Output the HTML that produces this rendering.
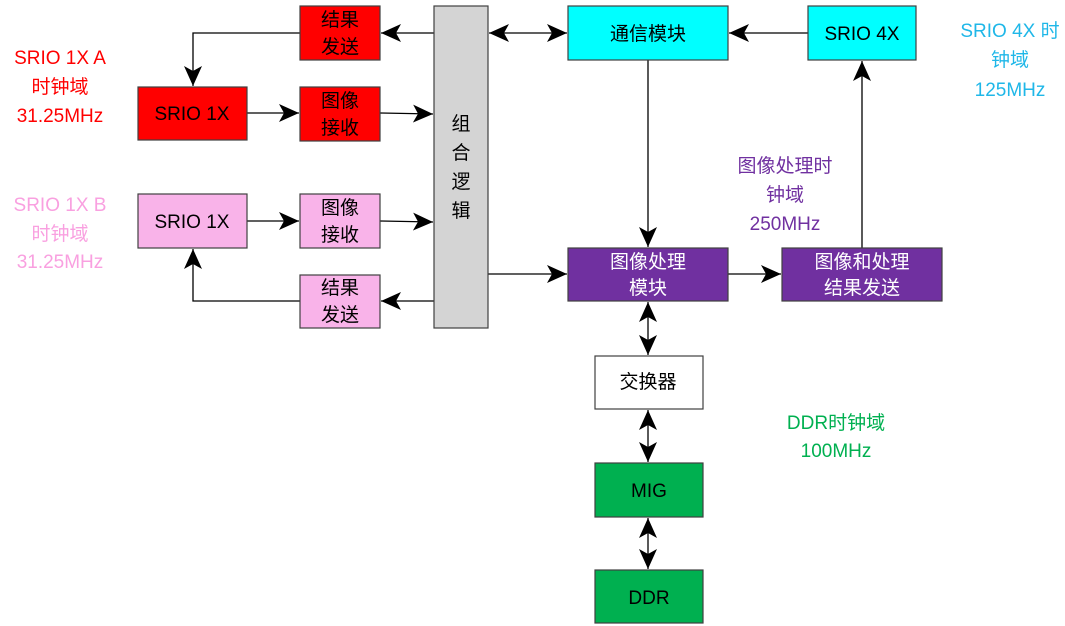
<!DOCTYPE html>
<html><head><meta charset="utf-8"><style>
html,body{margin:0;padding:0;background:#fff;width:1065px;height:626px;overflow:hidden}
text{font-family:"Liberation Sans","Noto Sans CJK SC",sans-serif;font-size:19px}
</style></head><body>
<svg width="1065" height="626" viewBox="0 0 1065 626">
<defs>
<marker id="a" viewBox="0 0 20 18" refX="20" refY="9" markerWidth="20" markerHeight="18" markerUnits="userSpaceOnUse" orient="auto-start-reverse">
<path d="M0,0 L20,9 L0,18 L5,9 Z" fill="#000"/></marker>
</defs>
<g stroke="#000" stroke-width="1.3" fill="none">
<line x1="434" y1="33" x2="381" y2="33" marker-end="url(#a)"/>
<line x1="489" y1="33" x2="567" y2="33" marker-start="url(#a)" marker-end="url(#a)"/>
<polyline points="300,33 193,33 193,86" marker-end="url(#a)"/>
<line x1="247" y1="113" x2="299" y2="113" marker-end="url(#a)"/>
<line x1="380" y1="113" x2="433" y2="114" marker-end="url(#a)"/>
<line x1="247" y1="221" x2="299" y2="221" marker-end="url(#a)"/>
<line x1="380" y1="221" x2="433" y2="222" marker-end="url(#a)"/>
<line x1="434" y1="301" x2="381" y2="301" marker-end="url(#a)"/>
<polyline points="300,301 193,301 193,249" marker-end="url(#a)"/>
<line x1="488" y1="274" x2="567" y2="274" marker-end="url(#a)"/>
<line x1="648" y1="60" x2="648" y2="247" marker-end="url(#a)"/>
<line x1="808" y1="33" x2="729" y2="33" marker-end="url(#a)"/>
<line x1="862" y1="248" x2="862" y2="61" marker-end="url(#a)"/>
<line x1="728" y1="274" x2="781" y2="274" marker-end="url(#a)"/>
<line x1="648" y1="302" x2="648" y2="355" marker-start="url(#a)" marker-end="url(#a)"/>
<line x1="648" y1="410" x2="648" y2="462" marker-start="url(#a)" marker-end="url(#a)"/>
<line x1="648" y1="518" x2="648" y2="569" marker-start="url(#a)" marker-end="url(#a)"/>
</g>
<g stroke="#404040" stroke-width="1.2">
<rect x="300" y="6" width="80" height="54" fill="#ff0000"/>
<rect x="138" y="87" width="109" height="53" fill="#ff0000"/>
<rect x="300" y="87" width="80" height="54" fill="#ff0000"/>
<rect x="434" y="6" width="54" height="322" fill="#d4d4d4"/>
<rect x="568" y="6" width="160" height="54" fill="#00ffff"/>
<rect x="808" y="6" width="108" height="54" fill="#00ffff"/>
<rect x="138" y="194" width="109" height="54" fill="#f9b3e9"/>
<rect x="300" y="194" width="80" height="54" fill="#f9b3e9"/>
<rect x="300" y="275" width="80" height="53" fill="#f9b3e9"/>
<rect x="568" y="248" width="160" height="53" fill="#7030a0"/>
<rect x="782" y="248" width="160" height="53" fill="#7030a0"/>
<rect x="595" y="356" width="108" height="53" fill="#fff"/>
<rect x="595" y="463" width="108" height="54" fill="#00b050"/>
<rect x="595" y="570" width="108" height="53" fill="#00b050"/>
</g>
<g text-anchor="middle" fill="#000">
<text x="340" y="26">结果</text><text x="340" y="53">发送</text>
<text x="192" y="120">SRIO 1X</text>
<text x="340" y="107">图像</text><text x="340" y="134">接收</text>
<text x="192" y="228">SRIO 1X</text>
<text x="340" y="214">图像</text><text x="340" y="241">接收</text>
<text x="340" y="294">结果</text><text x="340" y="321">发送</text>
<text x="461" y="130">组</text><text x="461" y="159">合</text><text x="461" y="188">逻</text><text x="461" y="217">辑</text>
<text x="648" y="40">通信模块</text>
<text x="862" y="40">SRIO 4X</text>
<text x="648" y="380" dy="8">交换器</text>
<text x="649" y="497">MIG</text>
<text x="649" y="604">DDR</text>
</g>
<g text-anchor="middle" fill="#fff">
<text x="648" y="268">图像处理</text><text x="648" y="294">模块</text>
<text x="862" y="268">图像和处理</text><text x="862" y="294">结果发送</text>
</g>
<g text-anchor="middle">
<text x="60" y="64" fill="#ff0000">SRIO 1X A</text><text x="60" y="93" fill="#ff0000">时钟域</text><text x="60" y="122" fill="#ff0000">31.25MHz</text>
<text x="60" y="211" fill="#f9a0e0">SRIO 1X B</text><text x="60" y="240" fill="#f9a0e0">时钟域</text><text x="60" y="268" fill="#f9a0e0">31.25MHz</text>
<text x="1010" y="37" fill="#1fb7e8">SRIO 4X 时</text><text x="1010" y="66" fill="#1fb7e8">钟域</text><text x="1010" y="96" fill="#1fb7e8">125MHz</text>
<text x="785" y="172" fill="#7030a0">图像处理时</text><text x="785" y="201" fill="#7030a0">钟域</text><text x="785" y="230" fill="#7030a0">250MHz</text>
<text x="836" y="429" fill="#00b050">DDR时钟域</text><text x="836" y="457" fill="#00b050">100MHz</text>
</g>
</svg>
</body></html>
